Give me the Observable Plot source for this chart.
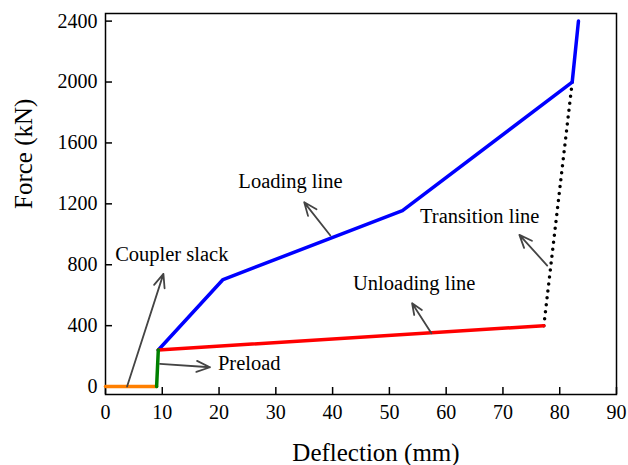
<!DOCTYPE html>
<html>
<head>
<meta charset="utf-8">
<script src="https://cdn.jsdelivr.net/npm/d3@7"></script>
<script src="https://cdn.jsdelivr.net/npm/@observablehq/plot@0.6"></script>
<style>
  html, body { margin: 0; padding: 0; background: #fff; }
  svg, svg text { font-family: 'Liberation Serif', serif !important; }
</style>
</head>
<body>
<div id="chart"></div>
<script>
// Segments of the force–deflection curve
const slackX = [0, 9];            const slackY = [0, 0];
const preloadX = [9, 9.3];        const preloadY = [0, 240];
const loadingX = [9.3, 20.7, 52.3, 82.2, 83.3];
const loadingY = [240, 703, 1155, 2000, 2400];
const unloadingX = [9.3, 77.2];   const unloadingY = [240, 400];
const transitionX = [77.2, 82.2]; const transitionY = [400, 2000];

// Annotations
const labelText = ["Coupler slack", "Preload", "Loading line", "Unloading line", "Transition line"];
const labelX = [1.7, 19.8, 23.4, 43.6, 55.4];
const labelY = [870, 150, 1346, 675, 1117];
const arrowX1 = [3.8, 9.6, 39.6, 57.4, 77.8];
const arrowY1 = [0, 149, 992, 350, 795];
const arrowX2 = [10.2, 18.4, 35.0, 54.0, 72.9];
const arrowY2 = [740, 127, 1210, 547, 996];

const xTicks = [0, 10, 20, 30, 40, 50, 60, 70, 80, 90];
const yTicks = [0, 400, 800, 1200, 1600, 2000, 2400];

const pts = (xs, ys) => xs.map((x, i) => ({x, y: ys[i]}));
const labels = labelText.map((t, i) => ({t, x: labelX[i], y: labelY[i]}));
const arrows = arrowX1.map((x1, i) => ({x1, y1: arrowY1[i], x2: arrowX2[i], y2: arrowY2[i]}));

const font = "'Liberation Serif', 'Times New Roman', serif";

const chart = Plot.plot({
  width: 628,
  height: 465,
  marginLeft: 105,
  marginRight: 12,
  marginTop: 13,
  marginBottom: 71,
  style: {fontFamily: font, fontSize: "20px", color: "#000", background: "#fff"},
  x: {domain: [0, 90]},
  y: {domain: [-52, 2450]},
  marks: [
    Plot.axisX({ticks: xTicks, tickFormat: d => String(d), tickSize: -7, tickPadding: 17, strokeWidth: 1.5, label: null, fontSize: 20, fontFamily: font}),
    Plot.axisY({ticks: yTicks, tickFormat: d => String(d), tickSize: -7, tickPadding: 15, strokeWidth: 1.5, label: null, fontSize: 20, fontFamily: font}),
    Plot.frame({stroke: "#000", strokeWidth: 1.5}),
    Plot.line(pts(transitionX, transitionY), {x: "x", y: "y", stroke: "#000", strokeWidth: 3.5, strokeDasharray: "0,7", strokeLinecap: "round"}),
    Plot.line(pts(loadingX, loadingY), {x: "x", y: "y", stroke: "#0000ff", strokeWidth: 3.5}),
    Plot.line(pts(unloadingX, unloadingY), {x: "x", y: "y", stroke: "#ff0000", strokeWidth: 3.5}),
    Plot.line(pts(slackX, slackY), {x: "x", y: "y", stroke: "#ff7f00", strokeWidth: 3.5}),
    Plot.line(pts(preloadX, preloadY), {x: "x", y: "y", stroke: "#008000", strokeWidth: 3.5}),
    Plot.arrow(arrows, {x1: "x1", y1: "y1", x2: "x2", y2: "y2", stroke: "#444", strokeWidth: 1.8, headLength: 12, headAngle: 45}),
    Plot.text(labels, {x: "x", y: "y", text: "t", textAnchor: "start", lineAnchor: "middle", fontSize: 20.5, fontFamily: font, fill: "#000"}),
    Plot.text(["Deflection (mm)"], {frameAnchor: "bottom", dx: 15, dy: 58, lineAnchor: "middle", fontSize: 25, fontFamily: font, fill: "#000"}),
    Plot.text(["Force (kN)"], {frameAnchor: "left", dx: -82, dy: 5, rotate: -90, lineAnchor: "middle", fontSize: 25, fontFamily: font, fill: "#000"})
  ]
});
document.getElementById("chart").appendChild(chart);
</script>
</body>
</html>
